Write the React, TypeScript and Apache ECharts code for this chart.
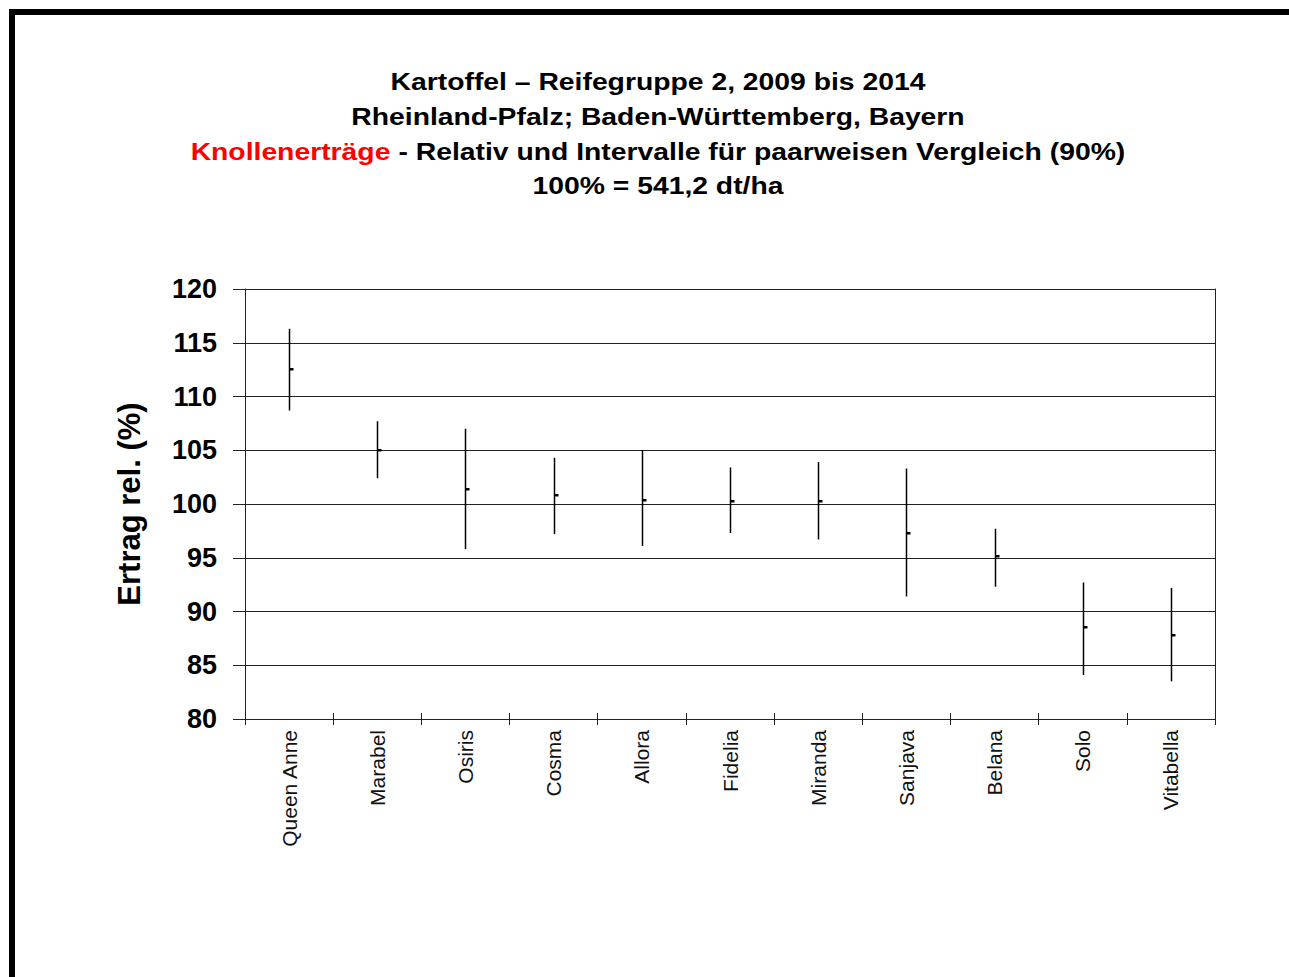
import React, { useEffect, useRef } from 'react';
import * as echarts from 'echarts';

const categories = ['Queen Anne', 'Marabel', 'Osiris', 'Cosma', 'Allora', 'Fidelia', 'Miranda', 'Sanjava', 'Belana', 'Solo', 'Vitabella'];
const meanValues = [112.6, 105.0, 101.4, 100.8, 100.4, 100.3, 100.3, 97.3, 95.2, 88.6, 87.8];
const lowerValues = [108.7, 102.4, 95.8, 97.2, 96.1, 97.3, 96.7, 91.4, 92.3, 84.1, 83.5];
const upperValues = [116.3, 107.7, 107.0, 104.3, 105.0, 103.4, 103.9, 103.3, 97.7, 92.7, 92.2];
const yMin = 80;
const yMax = 120;
const yInterval = 5;

const titleLines = [
  'Kartoffel – Reifegruppe 2, 2009 bis 2014',
  'Rheinland-Pfalz; Baden-Württemberg, Bayern',
  '{r|Knollenerträge}{k| - Relativ und Intervalle für paarweisen Vergleich (90%)}',
  '100% = 541,2 dt/ha',
];
const yAxisName = 'Ertrag rel. (%)';

const FONT = '"Liberation Sans", Arial, sans-serif';

export default function App() {
  const ref = useRef<HTMLDivElement>(null);
  useEffect(() => {
    document.body.style.margin = '0';
    document.body.style.overflow = 'hidden';
    if (!ref.current) return;
    const chart = echarts.init(ref.current, null, { renderer: 'svg' });
    const data = categories.map((c, i) => [i, lowerValues[i], upperValues[i], meanValues[i]]);
    const titleY = [82, 117, 152, 186];
    const titleGraphics = titleLines.map((t, i) => ({
      type: 'text',
      x: 658,
      y: titleY[i],
      scaleX: 1.18,
      style: {
        text: t,
        fontFamily: FONT,
        fontSize: 24,
        fontWeight: 'bold',
        fill: '#000',
        align: 'center',
        verticalAlign: 'middle',
        rich: {
          r: { fill: '#ff0000', fontFamily: FONT, fontSize: 24, fontWeight: 'bold' },
          k: { fill: '#000', fontFamily: FONT, fontSize: 24, fontWeight: 'bold' },
        },
      },
    }));
    chart.setOption({
      animation: false,
      backgroundColor: '#fff',
      graphic: [
        { type: 'rect', shape: { x: 9, y: 9, width: 1280, height: 6 }, style: { fill: '#000' } },
        { type: 'rect', shape: { x: 9, y: 9, width: 6, height: 968 }, style: { fill: '#000' } },
        ...titleGraphics,
      ],
      grid: { left: 245, right: 74, top: 289, bottom: 258, containLabel: false },
      xAxis: [
        {
          type: 'category',
          data: categories,
          boundaryGap: true,
          axisLine: { show: true, lineStyle: { color: '#222', width: 1 } },
          axisTick: { show: true, inside: false, length: 6, alignWithLabel: false, lineStyle: { color: '#222' } },
          axisLabel: {
            rotate: 90,
            interval: 0,
            margin: 11,
            fontFamily: FONT,
            fontSize: 21,
            color: '#111',
          },
          splitLine: { show: false },
        },
        {
          type: 'category',
          data: categories,
          position: 'bottom',
          boundaryGap: true,
          axisLine: { show: false },
          axisTick: { show: true, inside: true, length: 6, lineStyle: { color: '#222' } },
          axisLabel: { show: false },
          splitLine: { show: false },
        },
      ],
      yAxis: [
        {
          type: 'value',
          min: yMin,
          max: yMax,
          interval: yInterval,
          name: yAxisName,
          nameLocation: 'middle',
          nameRotate: 90,
          nameGap: 100,
          nameTextStyle: { fontFamily: FONT, fontSize: 31, fontWeight: 'bold', color: '#000' },
          axisLine: { show: true, lineStyle: { color: '#222', width: 1 } },
          axisTick: { show: true, inside: false, length: 12, lineStyle: { color: '#222' } },
          axisLabel: { margin: 28, fontFamily: FONT, fontSize: 27, fontWeight: 'bold', color: '#000' },
          splitLine: { show: true, lineStyle: { color: '#222', width: 1 } },
        },
        {
          type: 'value',
          min: yMin,
          max: yMax,
          interval: yInterval,
          position: 'right',
          axisLine: { show: true, lineStyle: { color: '#222', width: 1 } },
          axisTick: { show: false },
          axisLabel: { show: false },
          splitLine: { show: false },
        },
      ],
      series: [
        {
          type: 'custom',
          xAxisIndex: 0,
          yAxisIndex: 0,
          data,
          encode: { x: 0, y: [1, 2, 3] },
          renderItem: (params: any, api: any) => {
            const idx = api.value(0);
            const lo = api.coord([idx, api.value(1)]);
            const hi = api.coord([idx, api.value(2)]);
            const m = api.coord([idx, api.value(3)]);
            const x = Math.round(lo[0]) + 0.5;
            return {
              type: 'group',
              children: [
                { type: 'line', shape: { x1: x, y1: hi[1], x2: x, y2: lo[1] }, style: { stroke: '#000', lineWidth: 1.5 } },
                { type: 'rect', shape: { x: x, y: Math.round(m[1]) - 1, width: 4, height: 2.5 }, style: { fill: '#000' } },
              ],
            };
          },
        },
      ],
    });
    return () => chart.dispose();
  }, []);
  return <div ref={ref} style={{ width: 1289, height: 977 }} />;
}
